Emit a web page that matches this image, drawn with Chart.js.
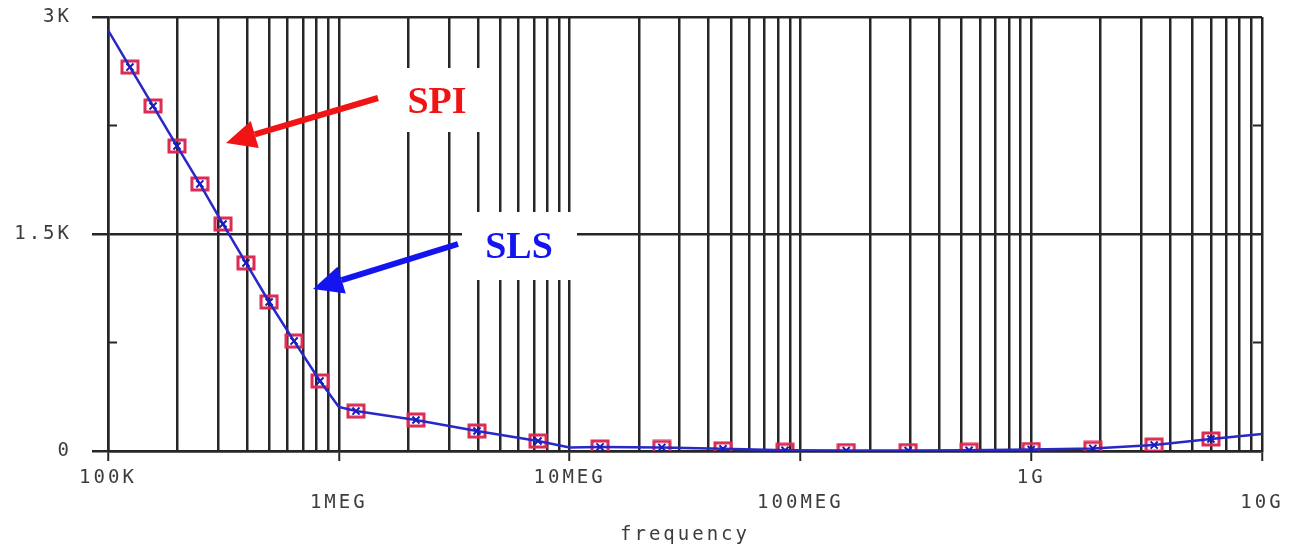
<!DOCTYPE html>
<html>
<head>
<meta charset="utf-8">
<script src="https://cdn.jsdelivr.net/npm/chart.js@4.4.1/dist/chart.umd.min.js"></script>
<style>
  html, body { margin: 0; padding: 0; background: #fff; }
  #wrap { width: 1293px; height: 545px; position: relative; }
</style>
</head>
<body>
<div id="wrap"><canvas id="freqChart"></canvas></div>
<script>
// marker frequencies (Hz) and the two simulated curves
const markFreq = [1.245e5, 1.567e5, 1.99e5, 2.5e5, 3.15e5, 3.96e5, 4.99e5, 6.4e5, 8.29e5,
                  1.187e6, 2.16e6, 3.97e6, 7.3e6, 1.355e7, 2.51e7, 4.62e7, 8.58e7,
                  1.58e8, 2.93e8, 5.38e8, 1e9, 1.85e9, 3.41e9, 6.01e9];
const spiValues = [2654, 2385, 2108, 1846, 1569, 1300, 1030, 760, 484,
                   276, 214, 138, 69, 28, 25, 15, 5,
                   3, 3, 5, 10, 18, 41, 83];
const slsValues = [2654, 2385, 2108, 1846, 1569, 1300, 1030, 760, 484,
                   276, 214, 138, 69, 28, 25, 15, 5,
                   3, 3, 5, 10, 18, 41, 83];
// extra points of the SLS trace between markers
const slsExtraFreq = [1e5, 1e6, 1e7, 1e10];
const slsExtraValues = [2910, 305, 25, 117];

const decadeValues = [1e5, 1e6, 1e7, 1e8, 1e9, 1e10];
const decadeLabels = ['100K', '1MEG', '10MEG', '100MEG', '1G', '10G'];
const yTickValues = [0, 750, 1500, 2250, 3000];
const yTickLabels = ['0', '', '1.5K', '', '3K'];

const inkColor = '#262626';
const textColor = '#3c3c3c';
const tickFont = { family: 'DejaVu Sans Mono', size: 19, lineHeight: 1.35 };

// minor log ticks 1..9 in every decade
const xTicks = [];
decadeValues.forEach((d, i) => {
  if (i === decadeValues.length - 1) { xTicks.push(d); return; }
  for (let k = 1; k <= 9; k++) xTicks.push(k * d);
});
const isDecade = v => decadeValues.some(d => Math.abs(v - d) < d * 1e-6);

const slsPoints = markFreq.map((f, i) => ({ x: f, y: slsValues[i], mark: true }))
  .concat(slsExtraFreq.map((f, i) => ({ x: f, y: slsExtraValues[i], mark: false })))
  .sort((a, b) => a.x - b.x);
const spiPoints = markFreq.map((f, i) => ({ x: f, y: spiValues[i] }));

// red square marker
function squareMark() {
  const c = document.createElement('canvas');
  c.width = 20; c.height = 16;
  const g = c.getContext('2d');
  g.strokeStyle = '#dc2a52';
  g.lineWidth = 3;
  g.strokeRect(2, 2, 16, 12);
  return c;
}

const spacing = {
  id: 'spacing',
  beforeUpdate(chart) { chart.ctx.letterSpacing = '3px'; },
  beforeDraw(chart) { chart.ctx.letterSpacing = '3px'; }
};

const innerTicks = {
  id: 'innerTicks',
  afterDraw(chart) {
    const { ctx, chartArea } = chart;
    const y = chart.scales.y;
    ctx.save();
    ctx.strokeStyle = inkColor;
    ctx.lineWidth = 2;
    [750, 2250].forEach(v => {
      const py = y.getPixelForValue(v);
      ctx.beginPath();
      ctx.moveTo(chartArea.left, py); ctx.lineTo(chartArea.left + 9, py);
      ctx.moveTo(chartArea.right - 9, py); ctx.lineTo(chartArea.right, py);
      ctx.stroke();
    });
    ctx.restore();
  }
};

function arrow(ctx, x0, y0, x1, y1, color) {
  const a = Math.atan2(y1 - y0, x1 - x0);
  const len = 30, half = 14;
  const bx = x1 - len * Math.cos(a), by = y1 - len * Math.sin(a);
  ctx.strokeStyle = color;
  ctx.fillStyle = color;
  ctx.lineWidth = 6;
  ctx.beginPath();
  ctx.moveTo(x0, y0); ctx.lineTo(bx, by);
  ctx.stroke();
  ctx.beginPath();
  ctx.moveTo(x1, y1);
  ctx.lineTo(bx + half * Math.sin(a), by - half * Math.cos(a));
  ctx.lineTo(bx - half * Math.sin(a), by + half * Math.cos(a));
  ctx.closePath();
  ctx.fill();
}

const callouts = {
  id: 'callouts',
  afterDraw(chart) {
    const ctx = chart.ctx;
    ctx.save();
    ctx.letterSpacing = '0px';
    ctx.fillStyle = '#fff';
    ctx.fillRect(403, 68, 87, 64);
    ctx.fillRect(462, 212, 115, 68);
    ctx.font = 'bold 38px "Liberation Serif"';
    ctx.textAlign = 'center';
    ctx.textBaseline = 'alphabetic';
    ctx.fillStyle = '#f01414';
    ctx.fillText('SPI', 437, 113);
    ctx.fillStyle = '#1414f0';
    ctx.fillText('SLS', 519, 258);
    arrow(ctx, 378, 98, 226, 143, '#f01414');
    arrow(ctx, 458, 244, 313, 289, '#1414f0');
    ctx.restore();
  }
};

const ctx = document.getElementById('freqChart').getContext('2d');
new Chart(ctx, {
  type: 'line',
  data: {
    datasets: [{
      label: 'SLS',
      data: slsPoints,
      borderColor: '#2828c8',
      borderWidth: 2.5,
      tension: 0,
      pointStyle: 'crossRot',
      pointRadius: c => (c.raw && c.raw.mark ? 5 : 0),
      pointBorderColor: '#1a1ac0',
      pointBorderWidth: 2,
      pointHoverRadius: 0
    }, {
      label: 'SPI',
      data: spiPoints,
      showLine: false,
      pointStyle: squareMark(),
      pointRadius: 8,
      pointHoverRadius: 8
    }]
  },
  options: {
    responsive: true,
    maintainAspectRatio: false,
    animation: false,
    events: [],
    layout: { padding: { top: 17, right: 31, left: 0, bottom: 0 } },
    plugins: {
      legend: { display: false },
      tooltip: { enabled: false }
    },
    scales: {
      x: {
        type: 'logarithmic',
        min: 1e5,
        max: 1e10,
        afterBuildTicks: scale => { scale.ticks = xTicks.map(v => ({ value: v })); },
        afterFit: scale => { scale.height = 94; scale.paddingLeft = 0; scale.paddingRight = 0; },
        border: { color: inkColor, width: 2.5 },
        grid: {
          color: inkColor,
          lineWidth: 2.5,
          tickLength: 10,
          tickColor: c => (c.tick && isDecade(c.tick.value) ? inkColor : 'rgba(0,0,0,0)'),
          tickWidth: 2
        },
        ticks: {
          autoSkip: false,
          maxRotation: 0,
          minRotation: 0,
          padding: 4,
          color: textColor,
          font: tickFont,
          callback: v => {
            const i = decadeValues.findIndex(d => Math.abs(v - d) < d * 1e-6);
            if (i < 0) return '';
            return i % 2 ? ['', decadeLabels[i]] : decadeLabels[i];
          }
        },
        title: {
          display: true,
          text: 'frequency',
          color: textColor,
          font: { family: 'DejaVu Sans Mono', size: 19, lineHeight: 1 },
          padding: 0
        }
      },
      y: {
        min: 0,
        max: 3000,
        afterBuildTicks: scale => { scale.ticks = yTickValues.map(v => ({ value: v })); },
        afterFit: scale => { scale.width = 108; scale.paddingTop = 0; scale.paddingBottom = 0; },
        border: { color: inkColor, width: 2.5 },
        grid: {
          color: c => (yTickLabels[yTickValues.indexOf(c.tick && c.tick.value)] ? inkColor : 'rgba(0,0,0,0)'),
          lineWidth: 2.5,
          tickLength: 16,
          tickColor: c => (yTickLabels[yTickValues.indexOf(c.tick && c.tick.value)] ? inkColor : 'rgba(0,0,0,0)')
        },
        ticks: {
          padding: 20,
          color: textColor,
          font: tickFont,
          callback: v => yTickLabels[yTickValues.indexOf(v)] || ''
        }
      }
    }
  },
  plugins: [spacing, innerTicks, callouts]
});
</script>
</body>
</html>
